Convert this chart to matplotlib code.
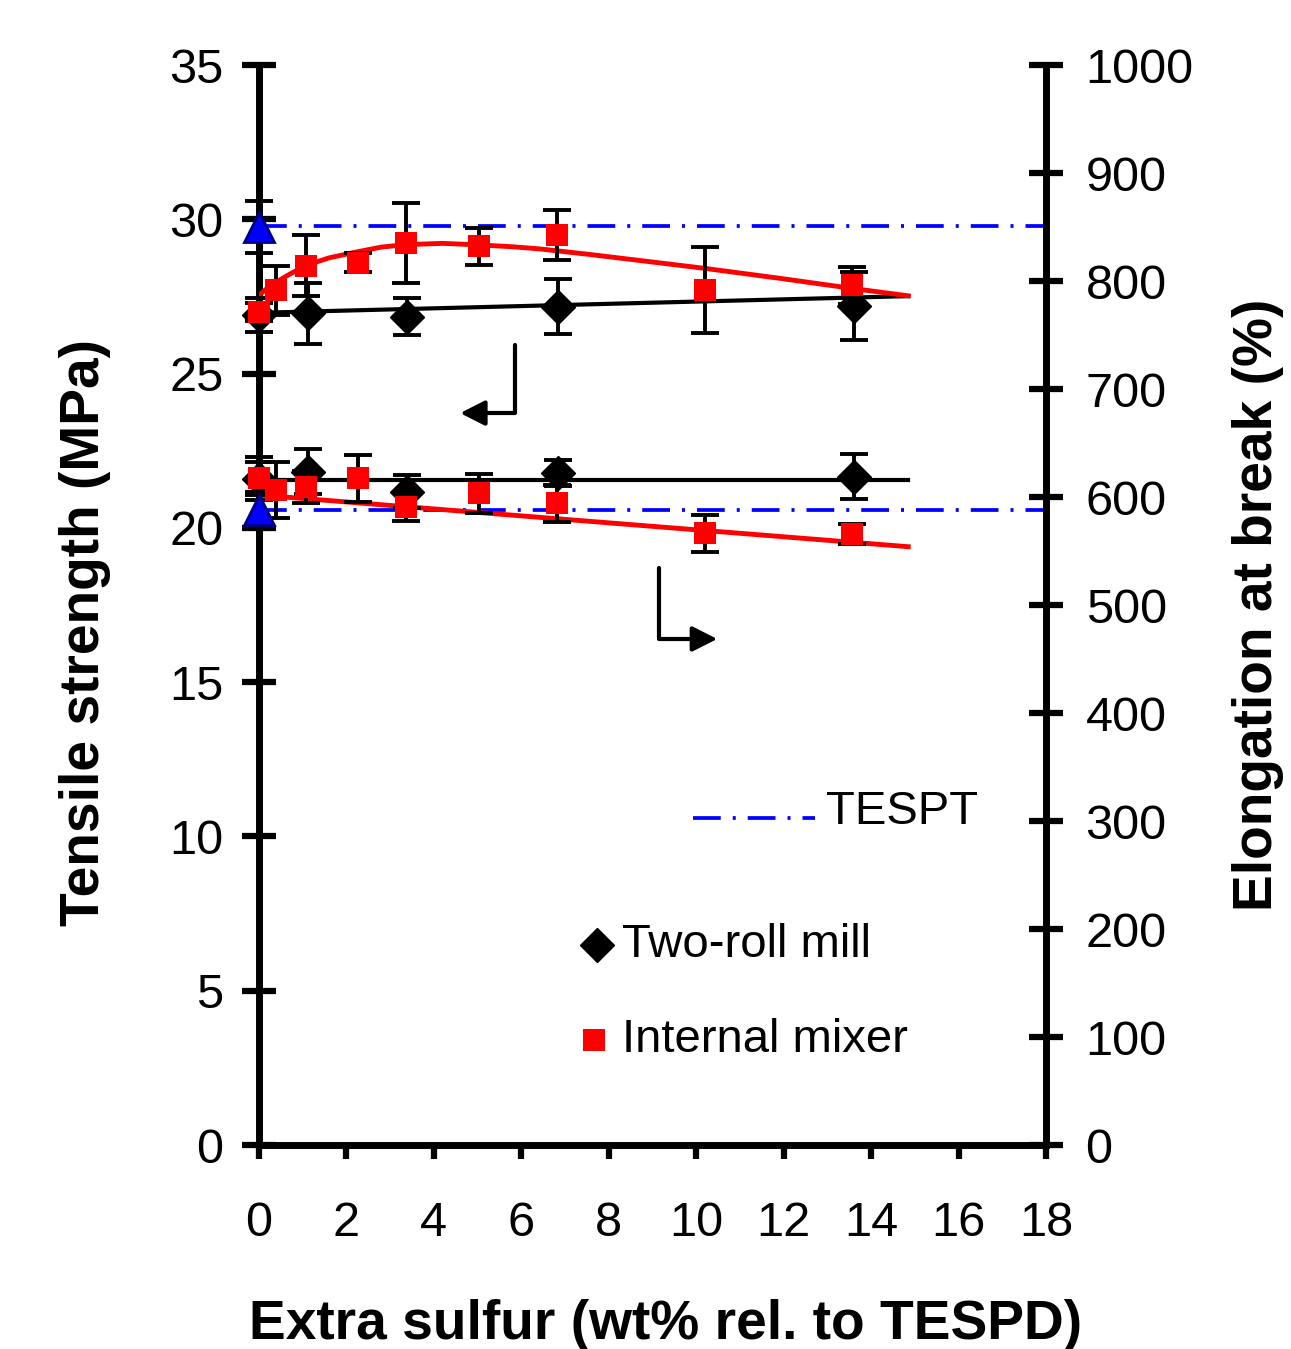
import numpy as np
import matplotlib
matplotlib.use('Agg')
import matplotlib.pyplot as plt

plt.rcParams['font.family'] = ['Liberation Sans', 'DejaVu Sans']

# extra sulfur (wt% rel. to TESPD)
mill_x = [0, 1.13, 3.38, 6.85, 13.6]
mixer_x = [0, 0.4, 1.07, 2.26, 3.36, 5.04, 6.81, 10.2, 13.57]
tespt_x = [0]

# tensile strength (MPa)
mill_ts = [26.9, 26.95, 26.84, 27.17, 27.2]
mill_ts_err = [0.55, 1.0, 0.6, 0.9, 1.1]
mixer_ts = [27.0, 27.7, 28.5, 28.6, 29.24, 29.13, 29.49, 27.7, 27.87]
mixer_ts_err = [0.3, 0.8, 1.0, 0.3, 1.3, 0.6, 0.8, 1.4, 0.6]
tespt_ts = [29.75]
tespt_ts_err = [0.84]

# elongation at break (%)
mill_eb = [617, 623.4, 605, 622.5, 618.8]
mill_eb_err = [20, 21, 15, 12, 21]
mixer_eb = [617.3, 606.5, 609.5, 617.3, 590.4, 603.4, 594.2, 566.4, 565.7]
mixer_eb_err = [15, 26, 15, 22, 13, 18, 17, 17, 9]
tespt_eb = [588]
tespt_eb_err = [17]

# trend lines
trend_x = [0, 14.85]
mill_ts_trend = [26.97, 27.51]
mill_eb_trend = [615.7, 615.7]
mixer_eb_trend = [601.9, 554.0]
mixer_ts_curve_x = [0, 0.2, 0.4, 0.7, 1.07, 1.6, 2.26, 2.8, 3.36, 4.2, 5.04, 5.8, 6.43, 7.57, 8.8, 10.2, 11.9, 13.57, 14.85]
mixer_ts_curve = [27.54, 27.78, 27.97, 28.22, 28.5, 28.75, 28.95, 29.1, 29.18, 29.22, 29.17, 29.11, 29.04, 28.86, 28.65, 28.41, 28.09, 27.76, 27.52]
tespt_ts_level = 29.78
tespt_eb_level = 588

fig = plt.figure(figsize=(12.91, 13.49), dpi=100)
ax = fig.add_axes([0.2006, 0.1512, 0.6096, 0.8006])
ax2 = ax.twinx()

ebkw = dict(fmt='none', ecolor='black', elinewidth=2.8, capsize=10, capthick=2.8, clip_on=False)
dashdot = (0, (7.4, 3.2, 0.8, 3.2))
tl = 2.7

# ---- tensile strength (left axis) ----
ax.plot([0, 18], [tespt_ts_level] * 2, color='#0000FF', lw=tl, ls=dashdot, zorder=2)
ax.plot(trend_x, mill_ts_trend, color='black', lw=3, zorder=3)
ax.plot(mixer_ts_curve_x, mixer_ts_curve, color='#FF0000', lw=3.5, zorder=3, solid_joinstyle='round')
ax.errorbar(mill_x, mill_ts, yerr=mill_ts_err, zorder=4, **ebkw)
ax.errorbar(mixer_x, mixer_ts, yerr=mixer_ts_err, zorder=4, **ebkw)
ax.errorbar(tespt_x, tespt_ts, yerr=tespt_ts_err, zorder=4, **ebkw)
ax.plot(mill_x, mill_ts, 'D', color='black', ms=17, ls='none', zorder=5, clip_on=False)
ax.plot(mixer_x, mixer_ts, 's', color='#FF0000', ms=16, mew=0, ls='none', zorder=6, clip_on=False)
ax.plot(tespt_x, tespt_ts, '^', color='#0000FF', mec='#000080', mew=2, ms=22, ls='none', zorder=7, clip_on=False)

# ---- elongation at break (right axis) ----
ax2.plot([0, 18], [tespt_eb_level] * 2, color='#0000FF', lw=tl, ls=dashdot, zorder=2)
ax2.plot(trend_x, mill_eb_trend, color='black', lw=3, zorder=3)
ax2.plot(trend_x, mixer_eb_trend, color='#FF0000', lw=3.5, zorder=3)
ax2.errorbar(mill_x, mill_eb, yerr=mill_eb_err, zorder=4, **ebkw)
ax2.errorbar(mixer_x, mixer_eb, yerr=mixer_eb_err, zorder=4, **ebkw)
ax2.errorbar(tespt_x, tespt_eb, yerr=tespt_eb_err, zorder=4, **ebkw)
ax2.plot(mill_x, mill_eb, 'D', color='black', ms=17, ls='none', zorder=5, clip_on=False)
ax2.plot(mixer_x, mixer_eb, 's', color='#FF0000', ms=16, mew=0, ls='none', zorder=6, clip_on=False)
ax2.plot(tespt_x, tespt_eb, '^', color='#0000FF', mec='#000080', mew=2, ms=22, ls='none', zorder=7, clip_on=False)

# arrows pointing to the relevant axis
arrow = dict(arrowstyle='-|>,head_length=0.75,head_width=0.38', mutation_scale=20, lw=3,
             color='black', shrinkA=0, shrinkB=0, connectionstyle='angle,angleA=90,angleB=0,rad=0')
ax2.annotate('', xy=(4.6, 23.72 / 35 * 1000), xytext=(5.86, 25.92 / 35 * 1000), arrowprops=arrow)
ax2.annotate('', xy=(10.48, 16.40 / 35 * 1000), xytext=(9.15, 18.70 / 35 * 1000), arrowprops=arrow)

# legend drawn by hand
ax2.plot([0.5515, 0.7065], [0.3028, 0.3028], color='#0000FF', lw=tl, ls=dashdot, transform=ax2.transAxes)
ax2.text(0.7205, 0.3083, 'TESPT', fontsize=34, va='center', ha='left', transform=ax2.transAxes)
ax2.plot([0.4295], [0.1852], 'D', color='black', ms=17, transform=ax2.transAxes)
ax2.text(0.4612, 0.1852, 'Two-roll mill', fontsize=34, va='center', ha='left', transform=ax2.transAxes)
ax2.plot([0.4257], [0.0972], 's', color='#FF0000', ms=16, mew=0, transform=ax2.transAxes)
ax2.text(0.4612, 0.0972, 'Internal mixer', fontsize=34, va='center', ha='left', transform=ax2.transAxes)

# axes styling
ax.set_xlim(0, 18)
ax.set_ylim(0, 35)
ax2.set_ylim(0, 1000)
ax.set_xticks(np.arange(0, 19, 2))
ax.set_yticks(np.arange(0, 36, 5))
ax2.set_yticks(np.arange(0, 1001, 100))

for a in (ax, ax2):
    a.spines['top'].set_visible(False)
    for s in a.spines.values():
        s.set_linewidth(5)
ax.spines['right'].set_visible(False)
ax2.spines['left'].set_visible(False)
ax2.spines['bottom'].set_visible(False)

ax.tick_params(axis='x', direction='out', length=10, width=4.5, pad=30, labelsize=35)
ax.tick_params(axis='y', direction='inout', length=25, width=4.5, pad=13, labelsize=35)
ax2.tick_params(axis='y', direction='inout', length=25, width=4.5, pad=16, labelsize=35)

ax.set_xlabel('Extra sulfur (wt% rel. to TESPD)', fontsize=39.7, fontweight='bold', va='center')
ax.xaxis.set_label_coords(0.5165, -0.1667)
ax.set_ylabel('Tensile strength (MPa)', fontsize=39.7, fontweight='bold', va='center')
ax.yaxis.set_label_coords(-0.221, 0.475)
ax2.set_ylabel('Elongation at break (%)', fontsize=39.7, fontweight='bold', va='center', rotation=90)
ax2.yaxis.set_label_coords(1.269, 0.5)

fig.savefig('out.png', dpi=100)
